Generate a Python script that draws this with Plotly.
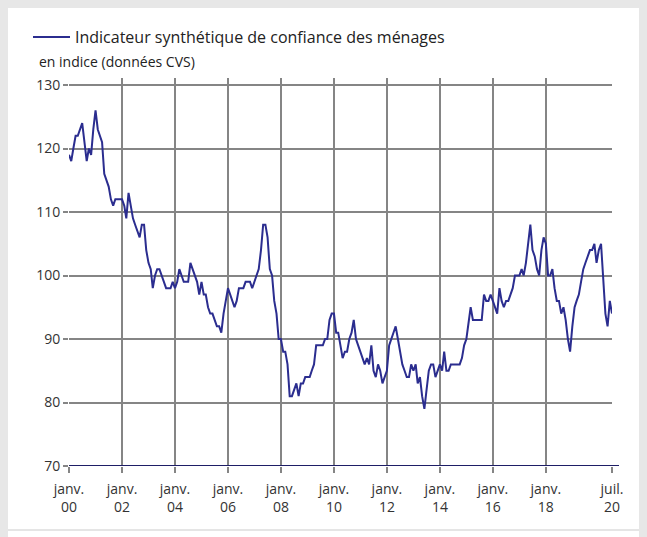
import pandas as pd
import plotly.graph_objects as go

# indicateur synthetique de confiance des menages, mensuel, janv. 2000 - juil. 2020
v2000 = [119, 118, 120, 122, 122, 123, 124, 121, 118, 120, 119, 123]
v2001 = [126, 123, 122, 121, 116, 115, 114, 112, 111, 112, 112, 112]
v2002 = [112, 111, 109, 113, 111, 109, 108, 107, 106, 108, 108, 104]
v2003 = [102, 101, 98, 100, 101, 101, 100, 99, 98, 98, 98, 99]
v2004 = [98, 99, 101, 100, 99, 99, 99, 102, 101, 100, 99, 97]
v2005 = [99, 97, 97, 95, 94, 94, 93, 92, 92, 91, 94, 96]
v2006 = [98, 97, 96, 95, 96, 98, 98, 98, 99, 99, 99, 98]
v2007 = [99, 100, 101, 104, 108, 108, 106, 101, 100, 96, 94, 90]
v2008 = [90, 88, 88, 86, 81, 81, 82, 83, 81, 83, 83, 84]
v2009 = [84, 84, 85, 86, 89, 89, 89, 89, 90, 90, 93, 94]
v2010 = [94, 91, 91, 89, 87, 88, 88, 90, 91, 93, 90, 89]
v2011 = [88, 87, 86, 87, 86, 89, 85, 84, 86, 85, 83, 84]
v2012 = [85, 89, 90, 91, 92, 90, 88, 86, 85, 84, 84, 86]
v2013 = [85, 86, 83, 84, 81, 79, 82, 85, 86, 86, 84, 85]
v2014 = [86, 85, 88, 85, 85, 86, 86, 86, 86, 86, 87, 89]
v2015 = [90, 93, 95, 93, 93, 93, 93, 93, 97, 96, 96, 97]
v2016 = [96, 95, 94, 98, 96, 95, 96, 96, 97, 98, 100, 100]
v2017 = [100, 101, 100, 102, 105, 108, 104, 103, 101, 100, 104, 106]
v2018 = [105, 100, 100, 101, 98, 96, 96, 94, 95, 93, 90, 88]
v2019 = [92, 95, 96, 97, 99, 101, 102, 103, 104, 104, 105, 102]
v2020 = [104, 105, 99, 94, 92, 96, 94]

values = (v2000 + v2001 + v2002 + v2003 + v2004 + v2005 + v2006 + v2007
	+ v2008 + v2009 + v2010 + v2011 + v2012 + v2013 + v2014 + v2015
	+ v2016 + v2017 + v2018 + v2019 + v2020)
dates = pd.date_range('2000-01-01', periods=len(values), freq='MS')

tick_dates = ['2000-01-01', '2002-01-01', '2004-01-01', '2006-01-01', '2008-01-01',
	'2010-01-01', '2012-01-01', '2014-01-01', '2016-01-01', '2018-01-01', '2020-07-01']
tick_labels = ['janv.<br>00', 'janv.<br>02', 'janv.<br>04', 'janv.<br>06', 'janv.<br>08',
	'janv.<br>10', 'janv.<br>12', 'janv.<br>14', 'janv.<br>16', 'janv.<br>18', 'juil.<br>20']

grid = '#858585'
navy = '#2b2d8f'

# plot area: 543 x 388 px
pw, ph = 543, 388

fig = go.Figure()

fig.add_trace(
	go.Scatter(
		x=dates,
		y=values,
		mode='lines',
		line=dict(color=navy, width=2),
		name='Indicateur synthétique de confiance des ménages'
		)
	)

# fin bordure droite / bas du cadre
fig.add_shape(type='line', xref='paper', yref='paper',
	x0=1 + 28/pw, x1=1 + 28/pw, y0=-64/ph, y1=1 + 80/ph,
	line=dict(color='#dcdcdc', width=1.5))
fig.add_shape(type='line', xref='paper', yref='paper',
	x0=-61/pw, x1=1 + 28/pw, y0=-64/ph, y1=-64/ph,
	line=dict(color='#dcdcdc', width=1.5))

# ligne de base prolongee a droite
fig.add_shape(type='line', xref='x domain', yref='y',
	x0=0, x1=1 + 7/pw, y0=70, y1=70,
	line=dict(color='#1e1e66', width=2))

fig.add_annotation(
	text='en indice (données CVS)', xref='paper', yref='paper',
	x=-32/pw, y=1 + 16/ph, xanchor='left', yanchor='middle',
	showarrow=False, font=dict(size=14, color='#222222'))

fig.update_layout(
	width=647,
	height=537,
	margin=dict(l=61, r=43, t=70, b=79),
	paper_bgcolor='white',
	plot_bgcolor='white',
	font=dict(family='Open Sans', size=14, color='#333333'),
	showlegend=True,
	legend=dict(
		x=-41/pw, y=1 + 41/ph, xanchor='left', yanchor='middle',
		font=dict(size=16, color='#222222'),
		itemwidth=37,
		bgcolor='rgba(0,0,0,0)'
		),
	xaxis=dict(
		range=['2000-01-01', '2020-07-01'],
		tickvals=tick_dates,
		ticktext=tick_labels,
		ticks='outside', ticklen=6, tickcolor=grid, tickwidth=1.5,
		ticklabelstandoff=4,
		showgrid=True, gridcolor=grid, gridwidth=1.5,
		showline=False, zeroline=False
		),
	yaxis=dict(
		range=[70, 130 + 7/6.35],
		tickvals=[70, 80, 90, 100, 110, 120, 130],
		ticks='outside', ticklen=5, tickcolor=grid, tickwidth=1.5,
		showgrid=True, gridcolor=grid, gridwidth=1.5,
		showline=False, zeroline=False
		)
	)

# fond gris de la page autour du graphique
fig.write_html('out.html', post_script="document.body.style.background='#e7e7e7';")
